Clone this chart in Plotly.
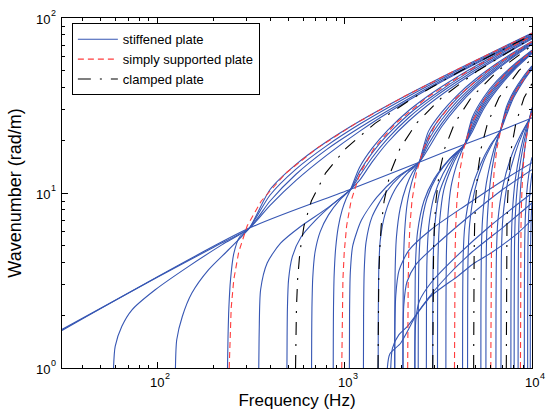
import math
import plotly.graph_objects as go

# ---------------- data ----------------
# shared wavenumber levels for the plate reference curves (rad/m)
plate_k = [1, 1.5, 2.2, 3.2, 4.6, 6.5, 9, 13, 18, 25, 35, 50, 70, 100]

# simply supported plate: frequency (Hz) at each wavenumber level, one list per mode
ss_freqs = [
    [242, 244, 248, 256, 272, 302, 359, 486, 711, 1148, 2019, 3870, 7354, 14757],
    [965, 967, 971, 979, 995, 1025, 1082, 1209, 1434, 1871, 2742, 4593, 8077, 15480],
    [2170, 2172, 2176, 2184, 2200, 2230, 2287, 2414, 2639, 3076, 3947, 5798, 9282, 16685],
    [3857, 3859, 3863, 3871, 3887, 3917, 3974, 4101, 4326, 4763, 5634, 7485, 10969],
    [6026, 6028, 6032, 6040, 6056, 6086, 6143, 6270, 6495, 6932, 7803, 9654, 13138],
    [8677, 8679, 8683, 8691, 8707, 8737, 8794, 8921, 9146, 9583, 10454],
]

# clamped plate: frequency (Hz) at each wavenumber level, one list per mode
clamped_freqs = [
    [547, 549, 553, 561, 577, 607, 664, 791, 1016, 1453, 2324, 4175, 7659, 15062],
    [1507, 1509, 1513, 1521, 1537, 1567, 1624, 1751, 1976, 2413, 3284, 5135, 8619, 16022],
    [2953, 2955, 2959, 2967, 2983, 3013, 3070, 3197, 3422, 3859, 4730, 6581, 10065],
    [4881, 4883, 4887, 4895, 4911, 4941, 4998, 5125, 5350, 5787, 6658, 8509, 11993],
    [7291, 7293, 7297, 7305, 7321, 7351, 7408, 7535, 7760, 8197, 9068, 10919],
]

# stiffened plate curves, grouped by the point where they meet
bundle1_f = [
    [31, 310, 1077, 2500, 4380, 6780, 9690, 10000],
    [31, 100, 200, 310, 400, 550, 800, 1200, 2000, 3500, 6000, 10000],
    [58.4, 59.6, 64.7, 73.3, 97.5, 147, 222, 310, 400, 550, 800, 1200, 2000, 3500, 6000, 10000],
    [125, 127, 136, 153, 188, 240, 310, 400, 550, 800, 1200, 2000, 3500, 6000, 10000],
    [237, 238.5, 241, 246, 256, 275, 310, 400, 550, 800, 1200, 2000, 3500, 6000, 10000],
]
bundle1_k = [
    [1.64, 6.3, 10.5, 15, 19, 22.7, 26.5, 26.9],
    [1.66, 3.3, 4.9, 6.3, 8.5, 11.8, 16.4, 22.5, 31.9, 44.8, 60.5, 79.5],
    [1, 1.33, 1.73, 2.15, 2.8, 3.81, 5.07, 6.3, 9.0, 12.8, 17.7, 23.6, 32.7, 45.5, 61.1, 80],
    [1, 1.45, 1.97, 2.68, 3.65, 4.74, 6.3, 9.74, 13.7, 18.6, 24.7, 33.8, 46.4, 62.1, 81.2],
    [1, 1.5, 2.2, 3.2, 4.5, 5.6, 6.3, 10.47, 14.57, 19.62, 25.7, 34.81, 47.38, 62.99, 82.0],
]

bundle2_f = [
    [348, 349, 350, 356, 386, 455, 582, 808, 1077, 1200, 1400, 1700, 2200, 3000, 4500, 7000, 10000],
    [492, 493, 495, 502, 525, 585, 700, 870, 1077, 1200, 1400, 1700, 2200, 3000, 4500, 7000, 10000],
    [666, 667, 669, 676, 695, 740, 820, 940, 1077, 1200, 1400, 1700, 2200, 3000, 4500, 7000, 10000],
    [869, 870, 872, 879, 895, 925, 970, 1020, 1077, 1200, 1400, 1700, 2200, 3000, 4500, 7000, 10000],
]
bundle2_k = [
    [1, 1.3, 1.65, 2.8, 3.98, 5.17, 6.44, 8.2, 10.5, 11.8, 15.0, 19.5, 25.8, 33.9, 45.9, 61.3, 76.1],
    [1, 1.5, 2.2, 3.2, 4.3, 5.6, 7.0, 8.7, 10.5, 12.5, 15.9, 20.5, 27.0, 35.2, 47.1, 62.2, 76.9],
    [1, 1.5, 2.2, 3.3, 4.6, 6.0, 7.5, 9.1, 10.5, 13.2, 16.9, 21.6, 28.2, 36.3, 48.4, 63.5, 78.1],
    [1, 1.5, 2.2, 3.4, 4.8, 6.4, 8.0, 9.3, 10.5, 14.0, 18.0, 22.9, 29.6, 37.9, 49.8, 64.8, 79.0],
]

bundle3_f = [
    [1060, 1062, 1072, 1105, 1230, 1490, 1900, 2500, 2800, 3300, 4000, 5000, 6500, 8000, 10000],
    [1260, 1262, 1272, 1300, 1400, 1650, 2000, 2500, 2800, 3300, 4000, 5000, 6500, 8000, 10000],
    [1510, 1512, 1522, 1550, 1650, 1850, 2150, 2500, 2800, 3300, 4000, 5000, 6500, 8000, 10000],
    [1850, 1852, 1862, 1890, 1980, 2130, 2300, 2500, 2800, 3300, 4000, 5000, 6500, 8000, 10000],
    [2048, 2050, 2060, 2090, 2160, 2270, 2380, 2500, 2800, 3300, 4000, 5000, 6500, 8000, 10000],
]
bundle3_k = [
    [1, 2, 3.5, 5, 7, 9.5, 12.3, 15, 18, 24, 31.2, 40, 50.7, 60, 70.7],
    [1, 2, 3.6, 5.2, 7.3, 10, 12.6, 15, 19, 25, 32.3, 41, 51.6, 60.8, 71.4],
    [1, 2, 3.7, 5.4, 7.7, 10.4, 12.9, 15, 20, 26.3, 33.6, 42.2, 52.8, 61.8, 72.2],
    [1, 2, 3.8, 5.6, 8.2, 10.9, 13.1, 15, 21.2, 27.7, 35, 43.5, 54, 62.8, 73],
    [1, 2, 3.9, 6, 8.8, 11.3, 13.3, 15, 22.5, 29, 36.3, 44.8, 55.1, 63.8, 73.7],
]

bundle4_f = [
    [2370, 2373, 2390, 2450, 2650, 3000, 3600, 4380, 4800, 5500, 6500, 8000, 10000],
    [2470, 2473, 2490, 2550, 2750, 3100, 3700, 4380, 4800, 5500, 6500, 8000, 10000],
    [2730, 2733, 2750, 2810, 3000, 3350, 3850, 4380, 4800, 5500, 6500, 8000, 10000],
    [2950, 2953, 2970, 3030, 3200, 3550, 3950, 4380, 4800, 5500, 6500, 8000, 10000],
    [3130, 3133, 3150, 3210, 3380, 3700, 4050, 4380, 4800, 5500, 6500, 8000, 10000],
    [3470, 3473, 3490, 3550, 3700, 3950, 4180, 4380, 4800, 5500, 6500, 8000, 10000],
]
bundle4_k = [
    [1, 2, 4, 6, 9, 12, 15.5, 19, 22.4, 30, 38.8, 50.2, 62.6],
    [1, 2, 4, 6.2, 9.3, 12.4, 15.9, 19, 23.2, 31, 39.8, 51, 63.2],
    [1, 2, 4.1, 6.4, 9.6, 12.9, 16.3, 19, 24, 32, 40.8, 51.8, 63.8],
    [1, 2, 4.2, 6.6, 10, 13.3, 16.6, 19, 25, 33, 41.8, 52.6, 64.4],
    [1, 2, 4.3, 6.8, 10.4, 13.8, 16.8, 19, 26, 34, 42.8, 53.4, 65],
    [1, 2, 4.4, 7.2, 10.9, 14.4, 17, 19, 27, 35, 43.8, 54.2, 65.5],
]

bundle5_f = [
    [4260, 4263, 4290, 4380, 4700, 5300, 6000, 6780, 7300, 8000, 9000, 10000],
    [4530, 4533, 4560, 4650, 4950, 5500, 6150, 6780, 7300, 8000, 9000, 10000],
    [5335, 5338, 5365, 5450, 5700, 6100, 6450, 6780, 7300, 8000, 9000, 10000],
    [5676, 5679, 5705, 5790, 6000, 6300, 6550, 6780, 7300, 8000, 9000, 10000],
]
bundle5_k = [
    [1, 2, 4.3, 6.5, 10, 14.5, 18.8, 22.7, 27.8, 35.2, 43.6, 51.1],
    [1, 2, 4.4, 6.7, 10.4, 15, 19.2, 22.7, 28.8, 36.2, 44.5, 51.8],
    [1, 2, 4.6, 7.2, 11.3, 16, 19.7, 22.7, 29.9, 37.2, 45.4, 52.5],
    [1, 2, 4.7, 7.5, 11.8, 16.5, 20, 22.7, 31, 38.2, 46.3, 53.2],
]

bundle6_f = [
    [6420, 6424, 6460, 6580, 7000, 7800, 8800, 9690, 10000],
    [6830, 6834, 6870, 6990, 7400, 8150, 9000, 9690, 10000],
    [7715, 7719, 7750, 7850, 8150, 8700, 9250, 9690, 10000],
    [8030, 8034, 8065, 8165, 8450, 8950, 9400, 9690, 10000],
    [8430, 8434, 8465, 8560, 8800, 9200, 9500, 9690, 10000],
    [9100, 9103, 9130, 9220, 9450, 9800, 10000],
    [9480, 9483, 9510, 9600, 9800, 10000],
    [9790, 9793, 9815, 9900, 10000],
]
bundle6_k = [
    [1, 2, 4.5, 7, 11, 16.5, 22, 26.5, 28.5],
    [1, 2, 4.6, 7.2, 11.4, 17, 22.5, 26.5, 29],
    [1, 2, 4.8, 7.6, 12, 17.8, 23, 26.5, 29.6],
    [1, 2, 4.9, 7.8, 12.3, 18.2, 23.3, 26.5, 30.2],
    [1, 2, 5, 8, 12.6, 18.6, 23.5, 26.5, 30.8],
    [1, 2, 4.6, 7.4, 11, 14.5, 16],
    [1, 2, 4.7, 7.6, 10.8, 13],
    [1, 2, 4.5, 7.2, 9],
]

diagonal_f = [
    [1690, 1740, 1993, 2447, 3263, 4720, 7110, 10000],
    [1762, 1800, 1950, 2163, 2884, 4009, 4924, 6040, 8400, 10000],
    [2370, 2373, 2400, 2500, 2884, 4000, 6000, 10000],
    [2048, 2050, 2070, 2150, 2400, 2884, 4500, 7000, 10000],
    [1851, 1853, 1875, 1950, 2200, 2884, 4500, 7000, 10000],
]
diagonal_k = [
    [1, 1.2, 1.39, 2.06, 3.06, 4.54, 6.45, 8.77],
    [1, 1.3, 1.55, 1.73, 2.57, 3.34, 3.98, 4.54, 5.9, 7.05],
    [1, 1.4, 1.9, 2.4, 3.06, 4.4, 6.5, 10],
    [1, 1.5, 2.3, 3.1, 3.9, 4.75, 7.2, 10.5, 13.6],
    [1, 1.6, 2.6, 3.6, 4.7, 6.17, 8.6, 11.8, 14.9],
]

# tick labels: mantissa text and exponent text
x_tick_vals = [100, 1000, 10000]
x_tick_exp = ["2", "3", "4"]
y_tick_vals = [1, 10, 100]
y_tick_exp = ["0", "1", "2"]

# ---------------- styling ----------------
BLUE = "#3656b3"
RED = "#ff3c3c"
BLACK = "#000000"
FONT = "Liberation Sans, Arial, sans-serif"

fig = go.Figure()

first = True
for fs, ks in [(bundle1_f, bundle1_k), (bundle2_f, bundle2_k), (bundle3_f, bundle3_k),
               (bundle4_f, bundle4_k), (bundle5_f, bundle5_k), (bundle6_f, bundle6_k),
               (diagonal_f, diagonal_k)]:
    for f, k in zip(fs, ks):
        fig.add_trace(go.Scatter(
            x=f, y=k, mode="lines", name="stiffened plate",
            legendgroup="stiff", showlegend=first,
            line=dict(color=BLUE, width=1.1, shape="spline", smoothing=0.7),
            hoverinfo="skip"))
        first = False

first = True
for f in ss_freqs:
    fig.add_trace(go.Scatter(
        x=f, y=plate_k[:len(f)], mode="lines", name="simply supported plate",
        legendgroup="ss", showlegend=first,
        line=dict(color=RED, width=1.1, dash="6px,4px"),
        hoverinfo="skip"))
    first = False

first = True
for f in clamped_freqs:
    fig.add_trace(go.Scatter(
        x=f, y=plate_k[:len(f)], mode="lines", name="clamped plate",
        legendgroup="cl", showlegend=first,
        line=dict(color=BLACK, width=1.1, dash="13px,9px,2px,9px"),
        hoverinfo="skip"))
    first = False

x_minor = [v * m for m in (10, 100, 1000) for v in range(2, 10)]
x_minor = [v for v in x_minor if v > 31]
y_minor = [v * m for m in (1, 10) for v in range(2, 10)]

axis_common = dict(
    showline=True, linecolor="black", linewidth=1, mirror="allticks",
    ticks="inside", ticklen=6, tickwidth=1, tickcolor="black",
    showgrid=False, zeroline=False, showticklabels=False,
)

fig.update_xaxes(
    type="log", range=[1.4914, 4],
    tickmode="array", tickvals=x_tick_vals,
    minor=dict(tickmode="array", tickvals=x_minor, ticks="inside", ticklen=3,
               tickcolor="black", showgrid=False),
    title=dict(text="Frequency (Hz)", font=dict(family=FONT, size=17, color="black"),
               standoff=26),
    **axis_common)
fig.update_yaxes(
    type="log", range=[0, 2],
    tickmode="array", tickvals=y_tick_vals,
    minor=dict(tickmode="array", tickvals=y_minor, ticks="inside", ticklen=3,
               tickcolor="black", showgrid=False),
    title=dict(text="Wavenumber (rad/m)", font=dict(family=FONT, size=18, color="black"),
               standoff=34),
    **axis_common)

# tick labels as separate mantissa / exponent texts
for v, e in zip(x_tick_vals, x_tick_exp):
    fig.add_annotation(x=math.log10(v), y=0, xref="x", yref="paper", text="10",
                       showarrow=False, xanchor="center", yanchor="top", yshift=-5,
                       font=dict(family=FONT, size=13, color="black"))
    fig.add_annotation(x=math.log10(v), y=0, xref="x", yref="paper", text=e,
                       showarrow=False, xanchor="left", yanchor="top", xshift=6, yshift=-1,
                       font=dict(family=FONT, size=9, color="black"))
for v, e in zip(y_tick_vals, y_tick_exp):
    fig.add_annotation(x=0, y=math.log10(v), xref="paper", yref="y", text="10",
                       showarrow=False, xanchor="right", yanchor="middle", xshift=-10, yshift=-1,
                       font=dict(family=FONT, size=13, color="black"))
    fig.add_annotation(x=0, y=math.log10(v), xref="paper", yref="y", text=e,
                       showarrow=False, xanchor="right", yanchor="middle", xshift=-4, yshift=5,
                       font=dict(family=FONT, size=9, color="black"))

fig.update_layout(
    width=554, height=412,
    margin=dict(l=62, r=22, t=18, b=44, autoexpand=False),
    paper_bgcolor="white", plot_bgcolor="white",
    font=dict(family=FONT, color="black"),
    showlegend=True,
    legend=dict(x=0.021, y=0.985, xanchor="left", yanchor="top",
                bgcolor="white", bordercolor="black", borderwidth=1,
                font=dict(family=FONT, size=13, color="black"),
                itemwidth=40, tracegroupgap=0),
)

fig.write_html("out.html", config={"displayModeBar": False},
               post_script="document.body.style.margin='0px';document.body.style.padding='0px';")
